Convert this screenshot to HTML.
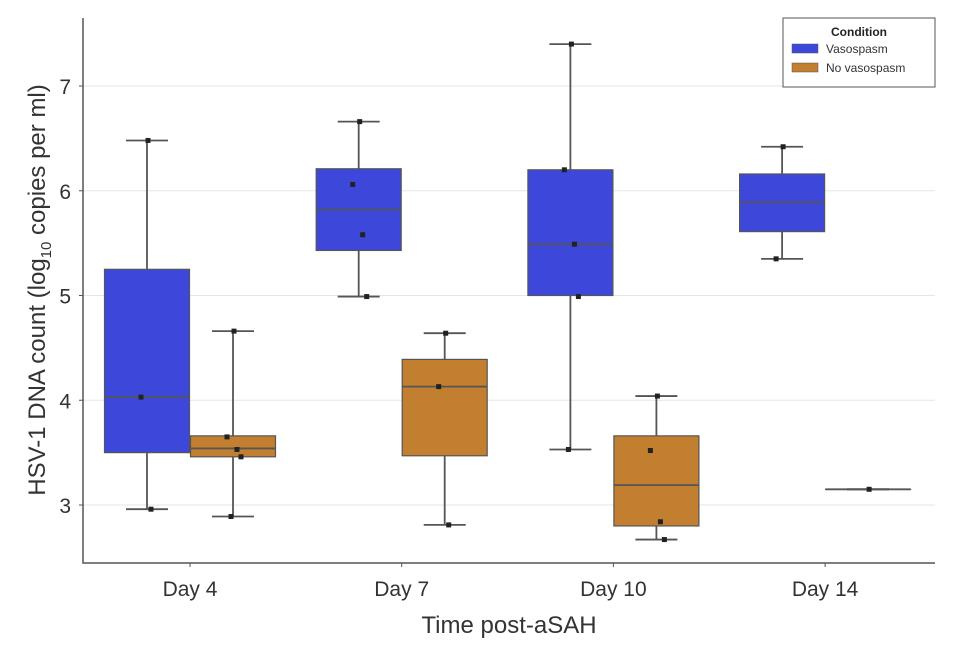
<!DOCTYPE html>
<html><head><meta charset="utf-8"><style>
body{margin:0;background:#fff;}
svg text{font-family:"Liberation Sans","DejaVu Sans",sans-serif;}
</style></head><body>
<svg id="chart" width="969" height="660" xmlns="http://www.w3.org/2000/svg"></svg>
<script>
const categories=["Day 4","Day 7","Day 10","Day 14"];
const yTicks=[3,4,5,6,7];
// [min, q1, median, q3, max]
const vasoStats=[[2.96,3.5,4.03,5.25,6.48],[4.99,5.43,5.82,6.21,6.66],[3.53,5.0,5.49,6.2,7.40],[5.35,5.61,5.89,6.16,6.42]];
const noVasoStats=[[2.89,3.46,3.54,3.66,4.66],[2.81,3.47,4.13,4.39,4.64],[2.67,2.8,3.19,3.66,4.04],[3.15,3.15,3.15,3.15,3.15]];
const vasoPoints=[[6.48,4.03,2.96],[6.66,6.06,5.58,4.99],[7.40,6.20,5.49,4.99,3.53],[6.42,5.35]];
const noVasoPoints=[[4.66,3.65,3.53,3.46,2.89],[4.64,4.13,2.81],[4.04,3.52,2.84,2.67],[3.15]];
const svg=document.getElementById('chart');const NS="http://www.w3.org/2000/svg";
function el(t,a,p){const e=document.createElementNS(NS,t);for(const k in a)e.setAttribute(k,a[k]);(p||svg).appendChild(e);return e;}
const L=83,R=935,T=18,B=563;
const y=v=>505-(v-3)*104.75;
const x=i=>190+i*211.7;
yTicks.forEach(t=>{const g=el('line',{x1:L,x2:R,y1:y(t),y2:y(t),stroke:'#e6e6e6','stroke-width':1});


const tx=el('text',{x:L-12,y:y(t)+8,'text-anchor':'end','font-size':21,fill:'#333'});tx.textContent=t;


el('line',{x1:L-4,x2:L,y1:y(t),y2:y(t),stroke:'#555'});});
const ax=el('path',{d:`M${L},${T} V${B} H${R}`,fill:'none',stroke:'#555','stroke-width':1.5});


categories.forEach((c,i)=>{el('line',{x1:x(i),x2:x(i),y1:B,y2:B+4,stroke:'#555'});
const t=el('text',{x:x(i),y:B+33,'text-anchor':'middle','font-size':21,fill:'#333'});t.textContent=c;

});
function box(s,cx,color,name,pts,jit){
const g=el('g',{});


const w=85,st='#555';
el('line',{x1:cx,x2:cx,y1:y(s[0]),y2:y(s[4]),stroke:st,'stroke-width':1.8},g);
el('line',{x1:cx-21,x2:cx+21,y1:y(s[0]),y2:y(s[0]),stroke:st,'stroke-width':1.8},g);
el('line',{x1:cx-21,x2:cx+21,y1:y(s[4]),y2:y(s[4]),stroke:st,'stroke-width':1.8},g);
el('rect',{x:cx-w/2,y:y(s[3]),width:w,height:Math.max(0.1,y(s[1])-y(s[3])),fill:color,stroke:st,'stroke-width':1.2},g);
el('line',{x1:cx-w/2,x2:cx+w/2,y1:y(s[2]),y2:y(s[2]),stroke:st,'stroke-width':1.8},g);
pts.forEach((p,k)=>{const r=el('rect',{x:cx+jit[k%jit.length]-2.5,y:y(p)-2.5,width:5,height:5,fill:'#222'},g);

});}
const jit=[1,-6,4,8,-2];
categories.forEach((c,i)=>{
box(vasoStats[i],x(i)-43,'#3d48db','vasospasm-box',vasoPoints[i],jit);
box(noVasoStats[i],x(i)+43,'#c27f30','no-vasospasm-box',noVasoPoints[i],jit);});
const xt=el('text',{x:(L+R)/2,y:633,'text-anchor':'middle','font-size':24,fill:'#333'});xt.textContent='Time post-aSAH';


const yt=el('text',{transform:'translate(45,290) rotate(-90)','text-anchor':'middle','font-size':24,fill:'#333'});
yt.innerHTML='HSV-1 DNA count (log<tspan font-size="15" dy="6">10</tspan><tspan dy="-6"> copies per ml)</tspan>';


const lg=el('g',{});


el('rect',{x:783,y:18,width:152,height:69,fill:'#fff',stroke:'#555','stroke-width':1},lg);
const lt=el('text',{x:859,y:36,'text-anchor':'middle','font-size':12,'font-weight':'bold',fill:'#222'},lg);lt.textContent='Condition';
[['Vasospasm','#3d48db'],['No vasospasm','#c27f30']].forEach((e,k)=>{
const ge=el('g',{},lg);


el('rect',{x:792,y:44+k*19,width:26,height:9,fill:e[1],stroke:'#555','stroke-width':0.5},ge);
const t=el('text',{x:826,y:53+k*19,'font-size':12,fill:'#333'},ge);t.textContent=e[0];});
</script>
</body></html>
